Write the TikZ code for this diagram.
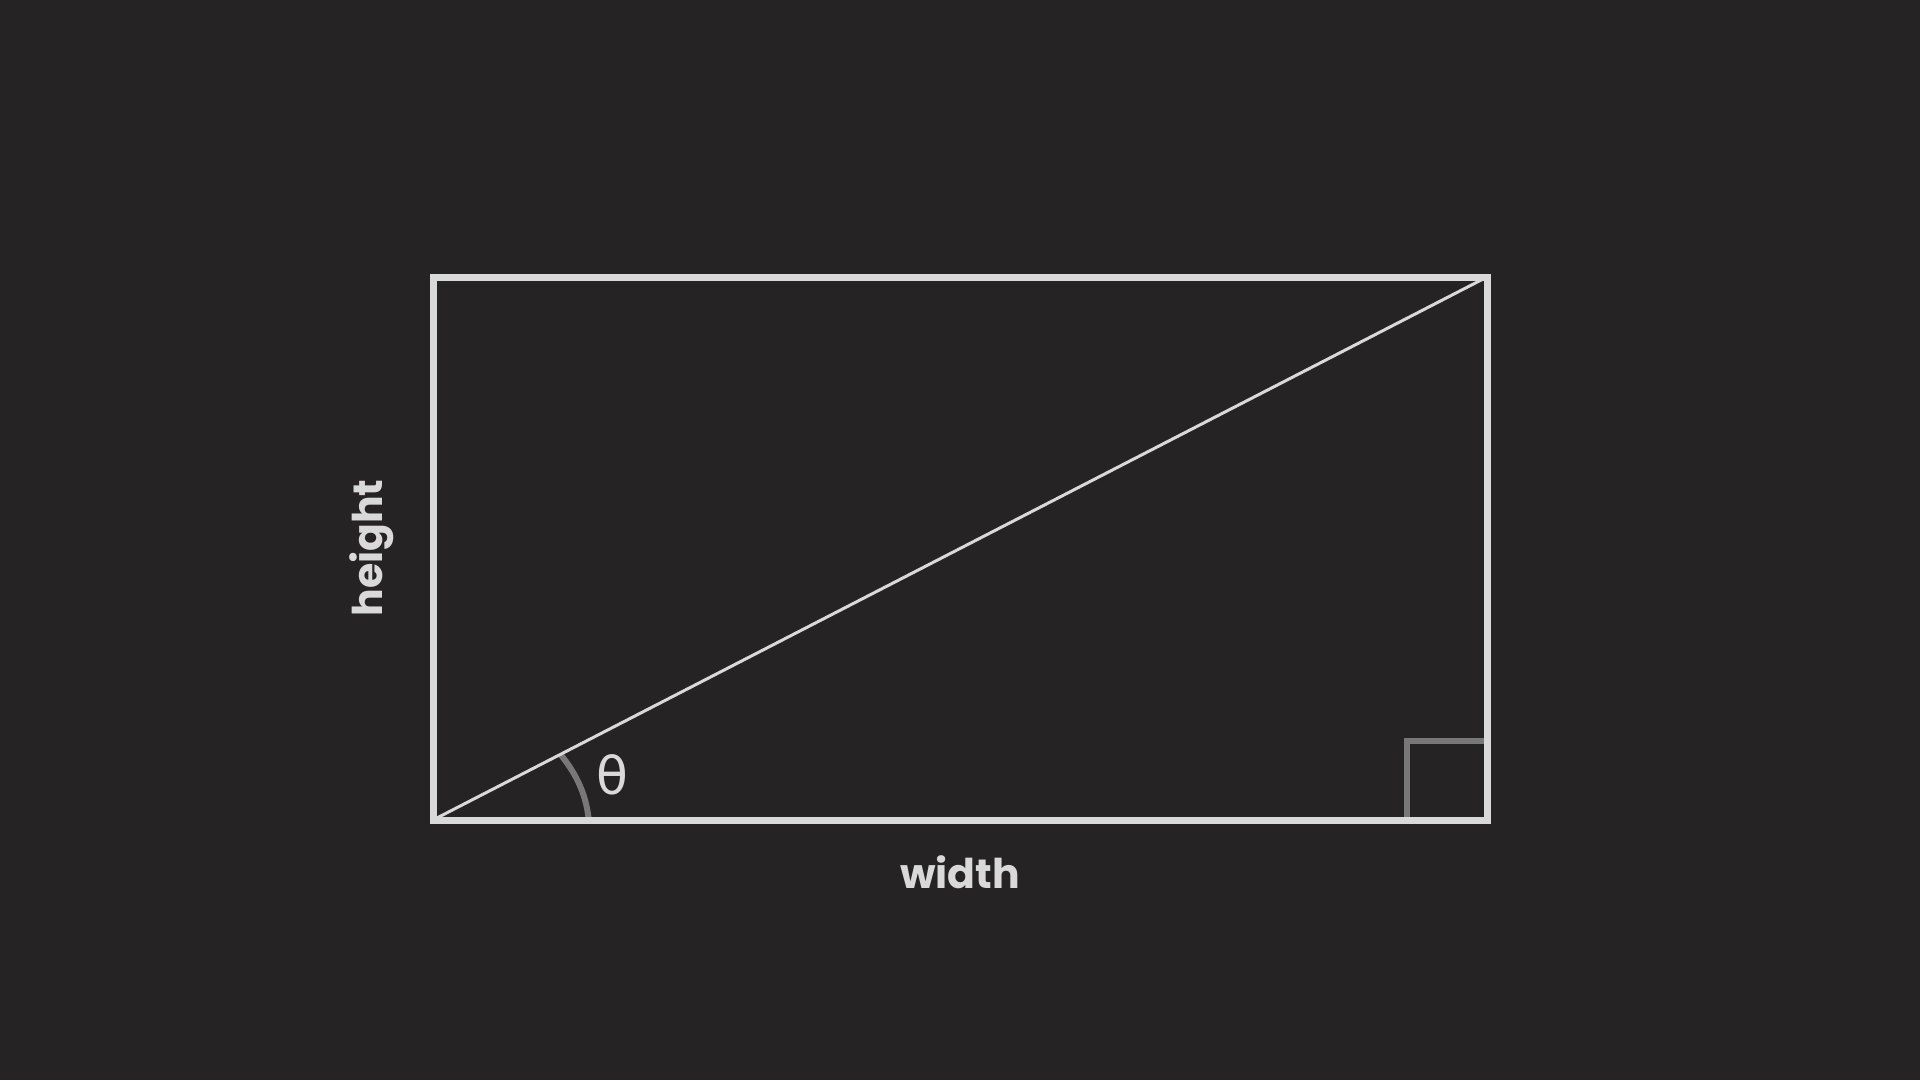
\documentclass[tikz,border=0pt]{standalone}
\usepackage{fontspec}
\setmainfont{Poppins}
\newfontfamily\thetafont{DejaVu Sans}
\definecolor{bg}{RGB}{37,35,36}
\definecolor{fg}{RGB}{217,217,217}
\definecolor{mid}{RGB}{120,120,120}
\tikzset{
  frame/.style={draw=fg, line width=7pt, line join=miter},
  diag/.style={draw=fg, line width=3pt},
  anglemark/.style={draw=mid, line width=6pt},
  lbl/.style={text=fg, inner sep=0pt, font=\bfseries\fontsize{41}{48}\selectfont},
}
\begin{document}
\begin{tikzpicture}[x=1pt,y=-1pt]
\fill[bg] (0,0) rectangle (1920,1080);
\useasboundingbox (0,0) rectangle (1920,1080);
\coordinate (BL) at (433,820);
\coordinate (TR) at (1487,277);
\coordinate (TL) at (433,277);
\coordinate (BR) at (1487,820);
\coordinate (SQ) at (1407,741);
\coordinate (A0) at (589,823);
\coordinate (A1) at (561,755);
% angle arc
\draw[anglemark] (A0) .. controls (587,796) and (577,775) .. (A1);
% right angle marker
\draw[anglemark] (SQ |- BR) -- (SQ) -- (SQ -| BR);
% diagonal
\draw[diag] (BL) -- (TR);
% rectangle
\draw[frame] (TL) rectangle (BR);
% labels
\node[lbl, font=\thetafont\fontsize{52}{60}\selectfont] (theta) at (612,775) {θ};
\node[lbl] (w) at (960,872) {width};
\node[lbl, rotate=90] (h) at (372,548) {height};
\end{tikzpicture}
\end{document}
